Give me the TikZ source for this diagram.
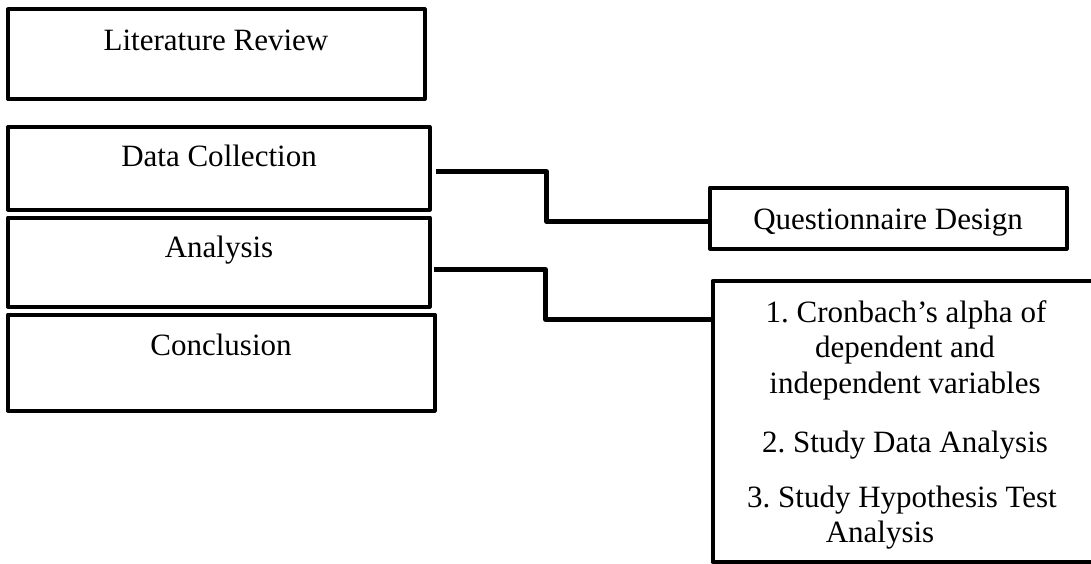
\documentclass[tikz,border=0pt]{standalone}
\usepackage{fontspec}
\setmainfont{Liberation Serif}
\frenchspacing
\begin{document}
\begin{tikzpicture}[x=1pt,y=-1pt,
  box/.style={draw, line width=4pt, line join=round, rectangle, inner sep=0pt, outer sep=0pt, anchor=north west},
  txt/.style={anchor=base, inner sep=0pt, font=\fontsize{31}{36}\selectfont},
  conn/.style={line width=4.5pt, line join=round}]
\useasboundingbox (0,0) rectangle (1091,564);
\clip (0,0) rectangle (1091,564);
% left column boxes
\node[box, minimum width=416.5pt, minimum height=89.5pt] (lit) at (8,9.5) {};
\node[box, minimum width=421.5pt, minimum height=82.5pt] (dc) at (8,127) {};
\node[box, minimum width=421.5pt, minimum height=89pt] (an) at (8,217.5) {};
\node[box, minimum width=426.5pt, minimum height=96pt] (con) at (8,314.5) {};
% right boxes
\node[box, minimum width=356.5pt, minimum height=61pt] (qd) at (710,187.5) {};
\node[box, minimum width=400pt, minimum height=281pt] (big) at (712.5,281) {};
% texts
\node[txt] (tlit) at (216,51) {Literature Review};
\node[txt] (tdc) at (219,167) {Data Collection};
\node[txt] (tan) at (219,257) {Analysis};
\node[txt] (tcon) at (221,355) {Conclusion};
\node[txt] (tqd) at (888,229) {Questionnaire Design};
\node[txt] (tb1) at (906,322) {1. Cronbach’s alpha of};
\node[txt] (tb2) at (905,357) {dependent and};
\node[txt] (tb3) at (905,393) {independent variables};
\node[txt] (tb4) at (905,452) {2. Study Data Analysis};
\node[txt] (tb5) at (902,507) {3. Study Hypothesis Test};
\node[txt] (tb6) at (880,542) {Analysis};
% connectors
\draw[conn] ([shift={(6.5pt,-3.25pt)}]dc.east) -| ([shift={(-163.5pt,-3.5pt)}]qd.west) -- ([yshift=-3.5pt]qd.west);
\draw[conn] ([shift={(4.5pt,-7.5pt)}]an.east) -| ([shift={(-167pt,-38.5pt)}]big.north west) -- ([yshift=-38.5pt]big.north west);
\end{tikzpicture}
\end{document}
